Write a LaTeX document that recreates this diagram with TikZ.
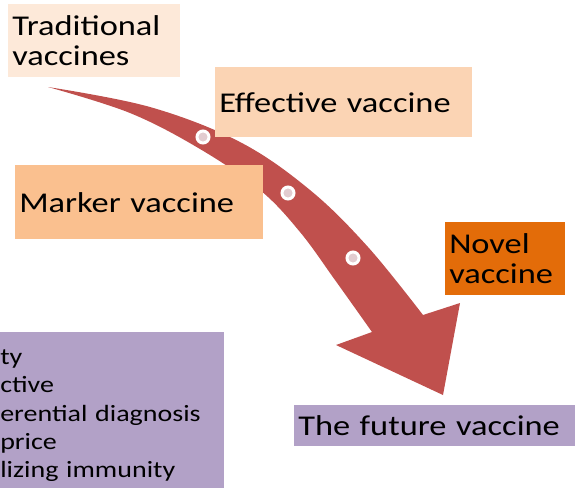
\documentclass[tikz,border=0pt]{standalone}
\usepackage{fontspec}
\setmainfont{Carlito}[FakeStretch=1.2]

\definecolor{tradfill}{HTML}{FDE9D9}
\definecolor{efffill}{HTML}{FBD4B4}
\definecolor{markfill}{HTML}{FAC08F}
\definecolor{novelfill}{HTML}{E36C09}
\definecolor{futurefill}{HTML}{B2A1C7}
\definecolor{arrowred}{HTML}{C0504D}
\definecolor{dotpink}{HTML}{E2CCD0}

\tikzset{
    stage/.style={anchor=north west, inner xsep=3pt, inner ysep=0pt, align=left, font=\fontsize{21.5}{22.5}\selectfont},
    waydot/.style={circle, fill=dotpink, draw=white, line width=2.25pt, minimum size=9pt, inner sep=0pt}
}

\begin{document}
\begin{tikzpicture}[x=0.75pt, y={(0pt,-0.75pt)}]
        \useasboundingbox (0,0) rectangle (577,487);

        \fill [arrowred] plot [smooth, tension=0.6] coordinates {(48,87) (150,107) (240,142) (310,190) (368,247) (423,315)}
            -- (460,303) -- (443,395) -- (336,345)
            -- plot [smooth, tension=0.6] coordinates {(372,332) (335,280) (300,232) (260,190) (200,149) (130,113) (48,87)} -- cycle;

        \node (dot1) [waydot] at (203,137) {};
        \node (dot2) [waydot] at (288,193) {};
        \node (dot3) [waydot] at (353,258) {};

        \node (traditional) [stage, fill=tradfill, text width=123pt, minimum height=54.75pt] at (8,4) {Traditional\\vaccines};
        \node (effective) [stage, fill=efffill, text width=186.75pt, minimum height=52.5pt] at (215,67) {Effective vaccine};
        \node (marker) [stage, fill=markfill, text width=180pt, minimum height=55.5pt] at (15,165) {Marker vaccine};
        \node (novel) [stage, fill=novelfill, text width=84pt, minimum height=54.75pt] at (445,222) {Novel\\vaccine};

        \node (criteria) [stage, fill=futurefill, inner xsep=0pt, text width=168pt, minimum height=125.25pt, font=\fontsize{17.5}{21.25}\selectfont] at (0,332) {ty\\ctive\\erential diagnosis\\price\\lizing immunity};
        \node (future) [stage, fill=futurefill, text width=204.75pt, minimum height=30.75pt] at (294,405) {The future vaccine};
    \end{tikzpicture}
\end{document}
